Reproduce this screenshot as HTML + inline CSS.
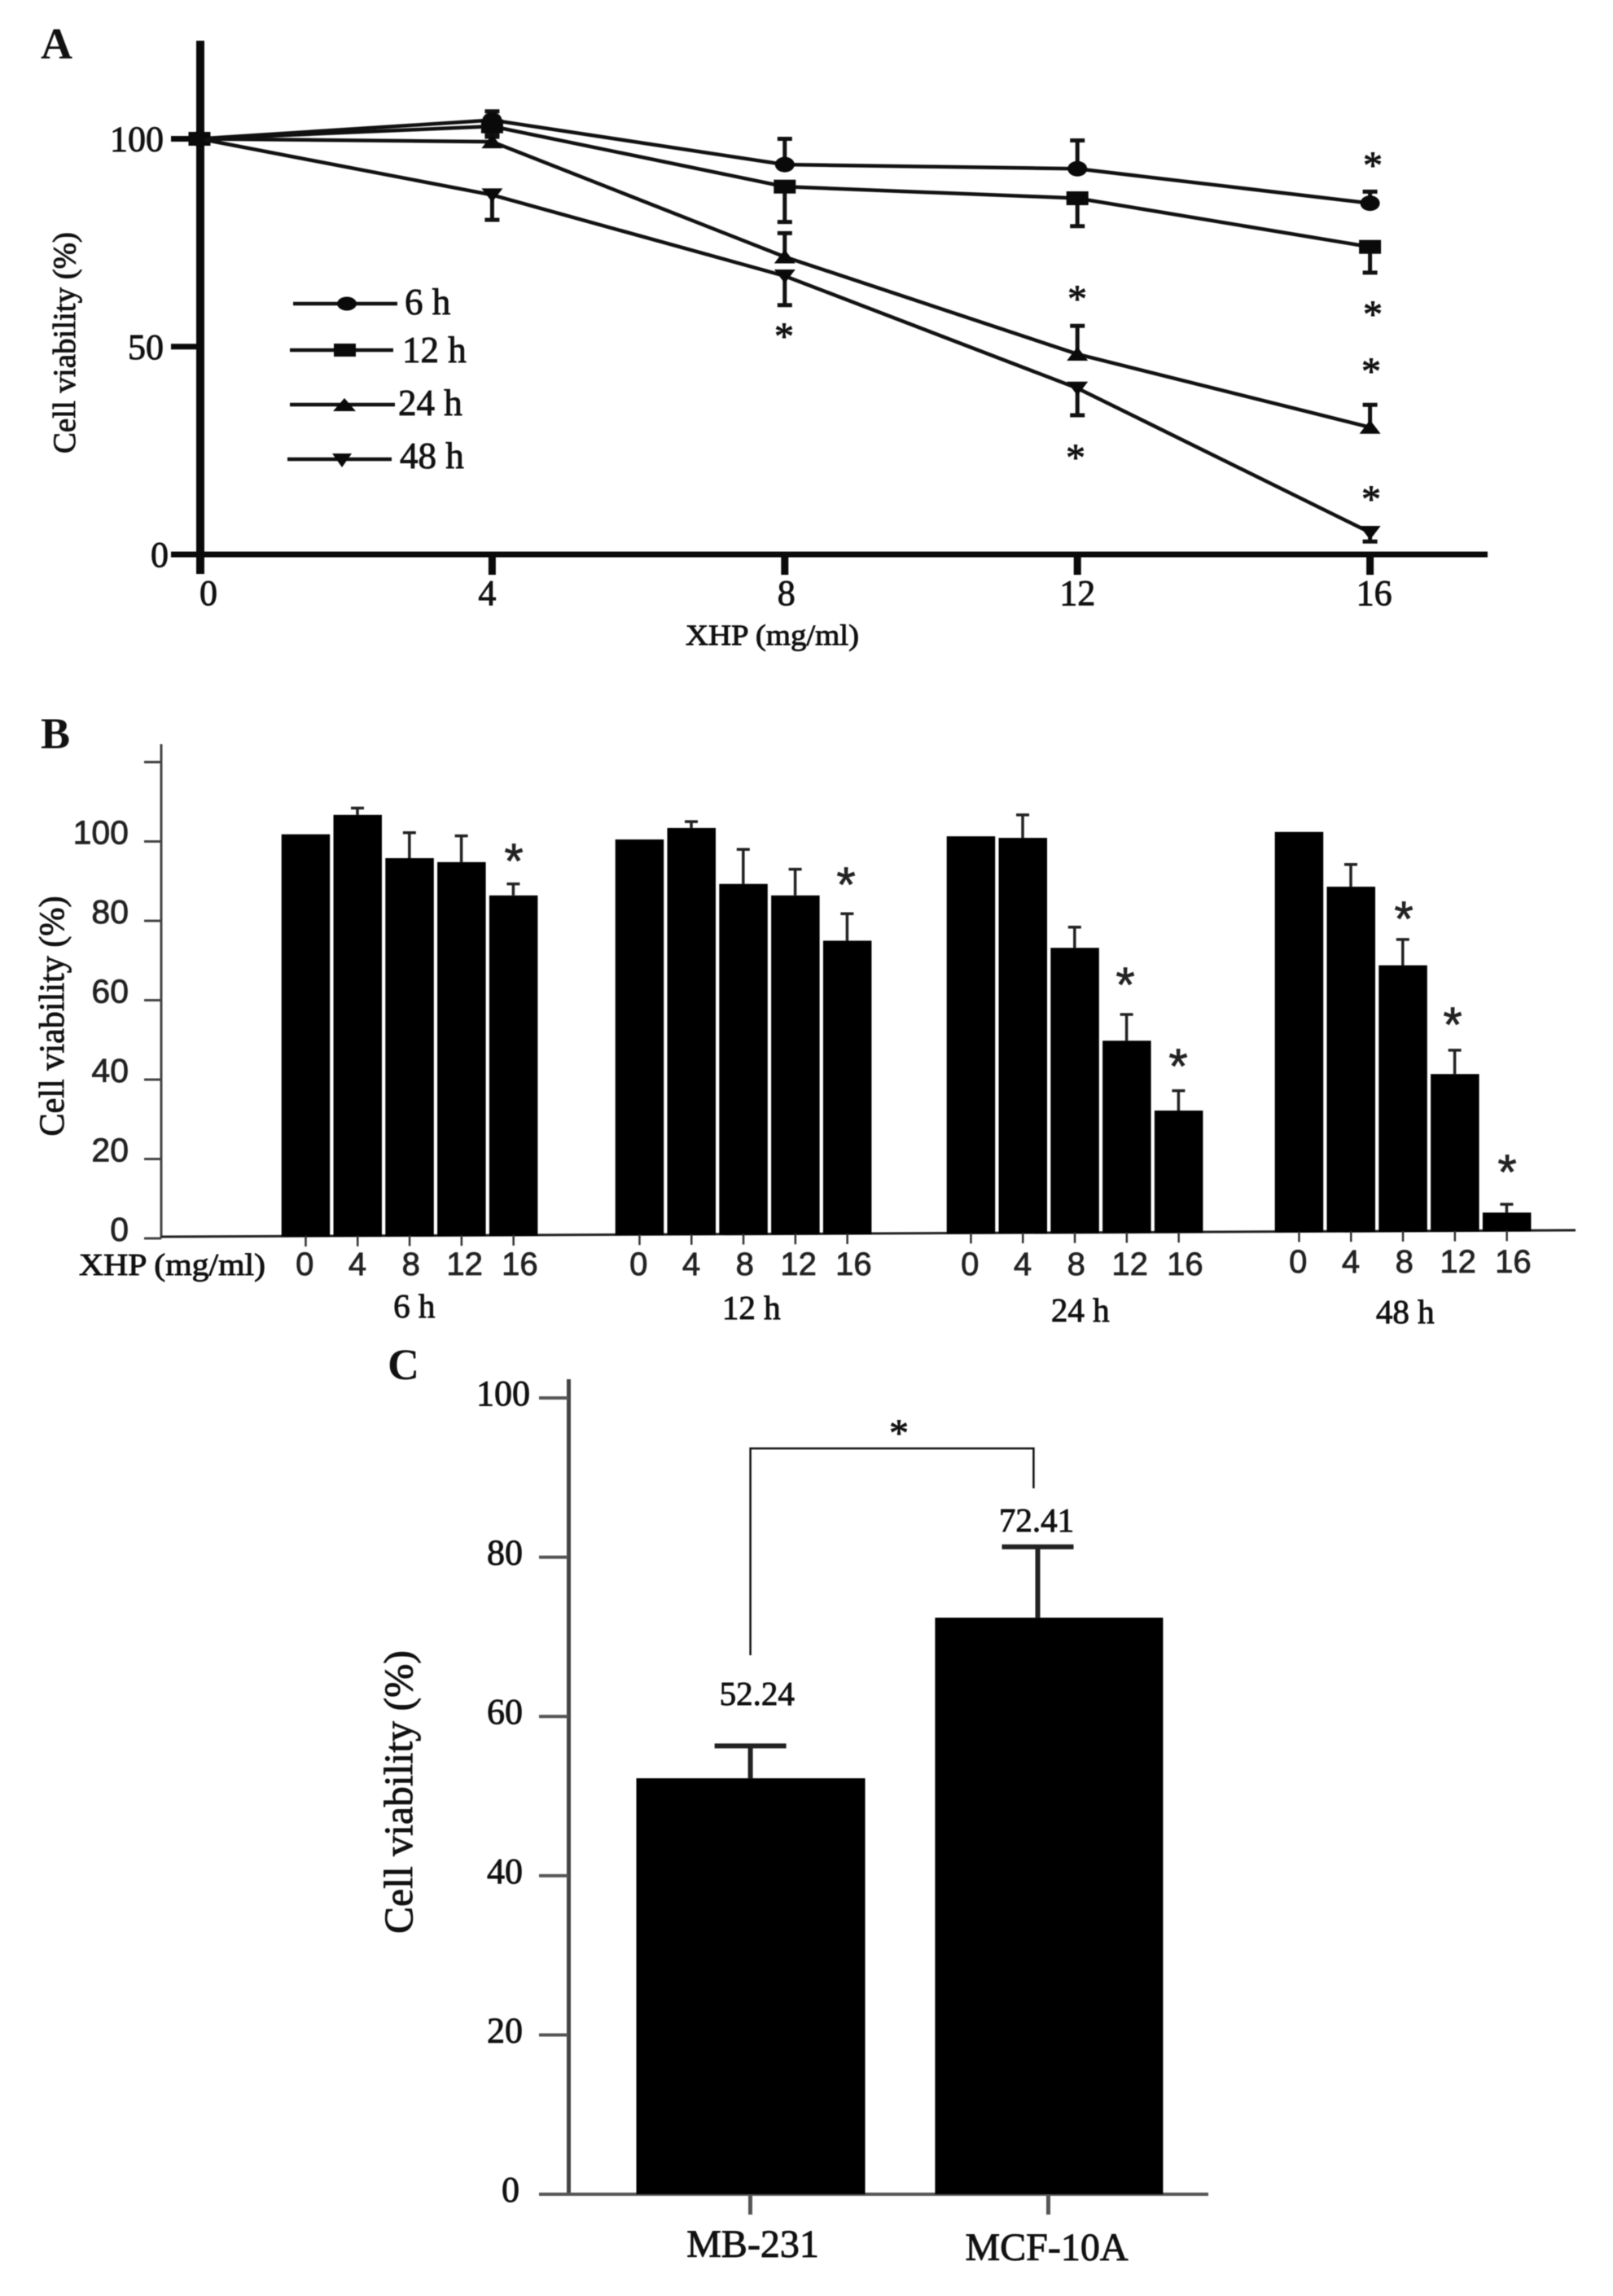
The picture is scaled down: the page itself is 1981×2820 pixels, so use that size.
<!DOCTYPE html>
<html lang="en">
<head>
<meta charset="utf-8">
<title>Cell viability charts</title>
<style>
html,body{margin:0;padding:0;background:#fff;width:1981px;height:2820px;overflow:hidden}
svg{display:block;filter:blur(0.6px)}
text{font-family:"Liberation Serif",serif;fill:#111;stroke:#111;stroke-width:.9px}
.sans{font-family:"Liberation Sans",sans-serif;fill:#222;stroke:#222;stroke-width:.8px}
.bold{font-weight:bold;stroke-width:0}
</style>
</head>
<body>
<svg id="figure" xmlns="http://www.w3.org/2000/svg" width="1981" height="2820" viewBox="0 0 1981 2820">
  <rect width="1981" height="2820" fill="#fff"/>

  <!-- Panel A static -->
  <g id="panelA">
    <text class="bold" x="50" y="72" font-size="54">A</text>
    <text transform="translate(92,421) rotate(-90)" text-anchor="middle" font-size="39" textLength="272" lengthAdjust="spacingAndGlyphs">Cell viability (%)</text>
    <text x="842" y="792" font-size="36" textLength="213" lengthAdjust="spacingAndGlyphs">XHP (mg/ml)</text>
    <rect x="241" y="50" width="10" height="655" fill="#0a0a0a"/>
    <rect x="210" y="677.5" width="1617" height="7" fill="#0a0a0a"/>
    <g>
      <g>
        <line x1="360" y1="373" x2="488" y2="373" stroke="#111" stroke-width="4.5"/>
        <ellipse cx="426" cy="373" rx="12" ry="8.5" fill="#0a0a0a"/>
        <text x="497" y="386" font-size="45">6 h</text>
      </g>
      <g>
        <line x1="356" y1="430" x2="483" y2="430" stroke="#111" stroke-width="4.5"/>
        <rect x="410" y="422" width="27" height="16" fill="#0a0a0a"/>
        <text x="494" y="445" font-size="45">12 h</text>
      </g>
      <g>
        <line x1="356" y1="497" x2="485" y2="497" stroke="#111" stroke-width="4.5"/>
        <polygon points="423,489 437,505 409,505" fill="#0a0a0a"/>
        <text x="489" y="510" font-size="45">24 h</text>
      </g>
      <g>
        <line x1="353" y1="564" x2="481" y2="564" stroke="#111" stroke-width="4.5"/>
        <polygon points="420,574 432,557 408,557" fill="#0a0a0a"/>
        <text x="491" y="575" font-size="45">48 h</text>
      </g>
    </g>
    <g font-size="48" text-anchor="middle">
      <text x="963" y="429">*</text>
      <text x="1323" y="383">*</text>
      <text x="1321" y="578">*</text>
      <text x="1686" y="219">*</text>
      <text x="1686" y="402">*</text>
      <text x="1684" y="472">*</text>
      <text x="1684" y="629">*</text>
    </g>
  </g>

  <!-- Panel B static -->
  <g id="panelB">
    <text class="bold" x="50" y="919" font-size="54">B</text>
    <text transform="translate(78,1248) rotate(-90)" text-anchor="middle" font-size="43" textLength="295" lengthAdjust="spacingAndGlyphs">Cell viability (%)</text>
    <text x="97" y="1566" font-size="38" textLength="229" lengthAdjust="spacingAndGlyphs">XHP (mg/ml)</text>
    <rect x="196.5" y="914" width="3" height="607" fill="#444"/>
    <polyline points="198,1519 1935,1511" fill="none" stroke="#222" stroke-width="3"/>
    <g font-size="60" text-anchor="middle">
      <text class="sans" x="631" y="1078">*</text>
      <text class="sans" x="1039" y="1107">*</text>
      <text class="sans" x="1382" y="1230">*</text>
      <text class="sans" x="1447" y="1330">*</text>
      <text class="sans" x="1724" y="1149">*</text>
      <text class="sans" x="1784" y="1279">*</text>
      <text class="sans" x="1851" y="1460">*</text>
    </g>
  </g>

  <!-- Panel C static -->
  <g id="panelC">
    <text class="bold" x="476" y="1694" font-size="54">C</text>
    <text transform="translate(506,2201) rotate(-90)" text-anchor="middle" font-size="50" textLength="348" lengthAdjust="spacingAndGlyphs">Cell viability (%)</text>
    <rect x="696" y="1694" width="5" height="1003" fill="#444"/>
    <rect x="662" y="2693" width="822" height="4" fill="#555"/>
    <polyline points="921.6,2033 921.6,1779 1269.4,1779 1269.4,1828" fill="none" stroke="#111" stroke-width="2.5"/>
    <text x="1104" y="1776" font-size="48" text-anchor="middle">*</text>
  </g>
</svg>

<script>
/* ---------- Panel A data ---------- */
const doses = [0, 4, 8, 12, 16];
const doseLabels = ['0', '4', '8', '12', '16'];
const viabilityTicksA = [0, 50, 100];
const viability6h = [100, 104.5, 93.8, 92.8, 84.5];
const viability12h = [100, 103, 88.5, 85.7, 74];
const viability24h = [100, 99.3, 71.6, 48.2, 30.6];
const viability48h = [100, 86.5, 67, 40, 5.3];
const errorEnd6h = [100, 106.6, 100, 99.6, 87.3];
const errorEnd12h = [100, 101, 80, 79, 67.8];
const errorEnd24h = [100, 100.5, 77.3, 55, 36];
const errorEnd48h = [100, 80.5, 60, 33.5, 3.1];
const seriesNamesA = ['6h', '12h', '24h', '48h'];

/* ---------- Panel B data ---------- */
const groupLabels = ['6 h', '12 h', '24 h', '48 h'];
const viabilityTicksB = [0, 20, 40, 60, 80, 100, 120];
const viabilityTickLabelsB = ['0', '20', '40', '60', '80', '100', ''];
const barValues6h = [101.8, 106.7, 95.8, 94.8, 86.4];
const barValues12h = [100.5, 103.4, 89.3, 86.4, 75];
const barValues24h = [101.3, 100.9, 73.2, 49.8, 32.2];
const barValues48h = [102.4, 88.6, 68.8, 41.4, 6.5];
const barErrorTop6h = [101.8, 108.4, 102.2, 101.4, 89.3];
const barErrorTop12h = [100.5, 105, 98, 93, 81.8];
const barErrorTop24h = [101.3, 106.7, 78.4, 56.4, 37.2];
const barErrorTop48h = [102.4, 94.2, 75.3, 47.4, 8.6];

/* ---------- Panel C data ---------- */
const cellLines = ['MB-231', 'MCF-10A'];
const cellViability = [52.24, 72.41];
const cellErrorTop = [56.3, 81.3];
const viabilityTicksC = [0, 20, 40, 60, 80, 100];

/* ---------- Scales ---------- */
function xA(dose) { return 245 + dose * 89.85; }
function yA(v) { return 681 - v * 5.105; }
function yB(v) { return 1521 - v * 4.875; }
function baseB(x) { return 1518 - (x - 345) * 0.0045; }
function groupX(g) { return [345.7, 755.7, 1162.7, 1565.7][g]; }
function barX(g, i) { return groupX(g) + i * 63.8; }
function yC(v) { return 2695 - v * 9.78; }
function xC(i) { return [781.5, 1148.4][i]; }

const NS = 'http://www.w3.org/2000/svg';
function mk(parent, tag, attrs, content) {
  const node = document.createElementNS(NS, tag);
  for (const k in attrs) node.setAttribute(k, attrs[k]);
  if (content !== undefined) node.textContent = content;
  parent.appendChild(node);
  return node;
}
const panelA = document.getElementById('panelA');
const panelB = document.getElementById('panelB');
const panelC = document.getElementById('panelC');
let el;

/* ---------- Panel A ---------- */
viabilityTicksA.forEach(function (v) {
  el = mk(panelA, 'rect', { x: 210, y: yA(v) - 3.5, width: 32, height: 7, fill: '#0a0a0a' });
  
  
  el = mk(panelA, 'text', { x: v === 0 ? 207 : 201, y: yA(v) + 15, 'font-size': 44, 'text-anchor': 'end' }, String(v));
  
  
});
doses.forEach(function (d, i) {
  if (d !== 0) {
    el = mk(panelA, 'rect', { x: xA(d) - 4.5, y: 681, width: 9, height: 25, fill: '#0a0a0a' });
    
    
  }
  el = mk(panelA, 'text', { x: xA(d) + [11, -6, 2, 0, 5][i], y: 743, 'font-size': 44, 'text-anchor': 'middle' }, doseLabels[i]);
  
  
});

const valuesA = [viability6h, viability12h, viability24h, viability48h];
const errorsA = [errorEnd6h, errorEnd12h, errorEnd24h, errorEnd48h];
valuesA.forEach(function (values, s) {
  const g = mk(panelA, 'g', {});
  
  
  el = mk(g, 'polyline', {
    points: values.map(function (v, i) { return xA(doses[i]) + ',' + yA(v); }).join(' '),
    fill: 'none', stroke: '#111', 'stroke-width': 4.5
  });
  
  
  values.forEach(function (v, i) {
    const x = xA(doses[i]);
    const y = yA(v);
    const ye = yA(errorsA[s][i]);
    if (i > 0) {
      el = mk(g, 'path', { d: 'M' + x + ' ' + y + 'V' + ye + 'M' + (x - 9) + ' ' + ye + 'H' + (x + 9), fill: 'none', stroke: '#111', 'stroke-width': 5 });
      
      
    }
    if (s === 0) {
      el = mk(g, 'ellipse', { cx: x, cy: y, rx: 12, ry: 9.5, fill: '#0a0a0a' });
    } else if (s === 1) {
      el = mk(g, 'rect', { x: x - 13.5, y: y - 8.5, width: 27, height: 17, fill: '#0a0a0a' });
    } else if (s === 2) {
      el = mk(g, 'polygon', { points: x + ',' + (y - 9) + ' ' + (x + 13) + ',' + (y + 8) + ' ' + (x - 13) + ',' + (y + 8), fill: '#0a0a0a' });
    } else {
      el = mk(g, 'polygon', { points: x + ',' + (y + 9) + ' ' + (x + 13) + ',' + (y - 8) + ' ' + (x - 13) + ',' + (y - 8), fill: '#0a0a0a' });
    }
    
    
  });
});

/* ---------- Panel B ---------- */
viabilityTicksB.forEach(function (v, i) {
  el = mk(panelB, 'rect', { x: 177, y: yB(v) - 1.5, width: 21, height: 3, fill: '#444' });
  
  
  if (viabilityTickLabelsB[i]) {
    el = mk(panelB, 'text', { x: 158, y: yB(v) + 3, 'font-size': 41, 'text-anchor': 'end', 'class': 'sans' }, viabilityTickLabelsB[i]);
    
    
  }
});
const valuesB = [barValues6h, barValues12h, barValues24h, barValues48h];
const errorsB = [barErrorTop6h, barErrorTop12h, barErrorTop24h, barErrorTop48h];
valuesB.forEach(function (values, g) {
  const grp = mk(panelB, 'g', {});
  
  
  values.forEach(function (v, i) {
    const x = barX(g, i);
    const cx = x + 29.5;
    const base = baseB(x);
    const top = yB(errorsB[g][i]);
    if (errorsB[g][i] > v) {
      el = mk(grp, 'path', { d: 'M' + cx + ' ' + yB(v) + 'V' + top + 'M' + (cx - 8) + ' ' + top + 'H' + (cx + 8), fill: 'none', stroke: '#222', 'stroke-width': 3.5 });
      
      
    }
    el = mk(grp, 'rect', { x: x, y: yB(v), width: 59.5, height: base - yB(v) + 1, fill: '#000' });
    
    
    el = mk(grp, 'rect', { x: cx - 1, y: base, width: 2.5, height: 13, fill: '#333' });
    
    
    el = mk(grp, 'text', { x: cx + [-1, 0, 2, 4, 8][i], y: g === 3 ? 1563 : 1566, 'font-size': 40, 'text-anchor': 'middle', 'class': 'sans' }, doseLabels[i]);
    
    
  });
  el = mk(grp, 'text', { x: groupX(g) + [163, 167, 164, 160][g], y: [1618, 1620, 1623, 1625][g], 'font-size': 41, 'text-anchor': 'middle' }, groupLabels[g]);
  
  
});

/* ---------- Panel C ---------- */
viabilityTicksC.forEach(function (v) {
  el = mk(panelC, 'rect', { x: 662, y: yC(v) - 2, width: 36, height: 4, fill: '#555' });
  
  
  el = mk(panelC, 'text', { x: v === 100 ? 651 : (v === 0 ? 638 : 642), y: yC(v) + 9, 'font-size': 44, 'text-anchor': 'end' }, String(v));
  
  
});
cellViability.forEach(function (v, i) {
  const x = xC(i);
  const w = [281, 280][i];
  const cx = [921.6, 1274.5][i];
  const top = yC(cellErrorTop[i]);
  el = mk(panelC, 'path', { d: 'M' + cx + ' ' + yC(v) + 'V' + top + 'M' + (cx - 44) + ' ' + top + 'H' + (cx + 44), fill: 'none', stroke: '#222', 'stroke-width': 6 });
  
  
  el = mk(panelC, 'rect', { x: x, y: yC(v), width: w, height: 2695 - yC(v), fill: '#000' });
  
  
  el = mk(panelC, 'rect', { x: [919, 1285][i], y: 2695, width: 5, height: 25, fill: '#555' });
  
  
  el = mk(panelC, 'text', { x: [924.6, 1285.5][i], y: [2772, 2776][i], 'font-size': 48, 'text-anchor': 'middle' }, cellLines[i]);
  
  
  el = mk(panelC, 'text', { x: [929.7, 1273][i], y: [2094, 1881][i], 'font-size': 41, 'text-anchor': 'middle' }, v.toFixed(2));
  
  
});
</script>
</body>
</html>
